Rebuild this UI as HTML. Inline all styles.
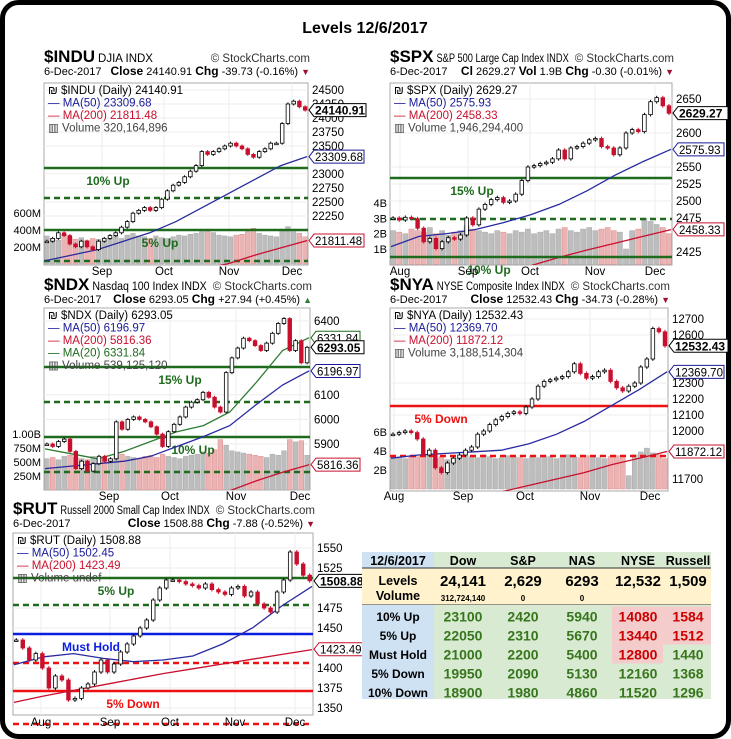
<!DOCTYPE html>
<html><head><meta charset="utf-8"><style>
html,body{margin:0;padding:0;background:#fff}
svg{display:block;font-family:"Liberation Sans",sans-serif}
</style></head><body>
<svg id="s" width="731" height="739" viewBox="0 0 731 739" xmlns="http://www.w3.org/2000/svg">
<rect x="2.5" y="2.5" width="726" height="734" rx="16" fill="#fff" stroke="#000" stroke-width="5"/>
<text x="365" y="33" text-anchor="middle" font-size="16" font-weight="bold">Levels 12/6/2017</text>
<g id="charts"></g>
<g id="table"></g>
</svg>
<script>
// ---------- DATA ----------
const induCloses=[21800,21850,21950,21900,21750,21700,21800,21700,21650,21800,21850,21900,21950,22050,22150,22300,22350,22400,22350,22400,22550,22700,22800,22850,22950,23050,23150,23400,23350,23400,23450,23500,23550,23500,23450,23350,23300,23400,23450,23550,23550,23900,24250,24300,24200,24140];
const induVolume=[330,300,280,350,320,290,310,280,300,290,270,310,330,300,340,360,330,320,300,330,310,300,320,340,330,350,360,380,390,370,340,330,320,340,350,380,420,360,340,330,320,400,440,380,360,320];
const induMa50=[21450,21550,21650,21800,21950,22150,22400,22650,22900,23150,23310];
const induMa200=[20700,20800,20900,21000,21100,21200,21300,21400,21550,21680,21811];
const induTicks=[24500,24250,24000,23750,23500,23000,22750,22500,22250];
const induVolTicks=[600,400,200];
const induVolTickLabels=["600M","400M","200M"];

const spxCloses=[2475,2472,2476,2474,2460,2440,2445,2430,2440,2446,2444,2450,2475,2465,2488,2495,2502,2505,2498,2500,2510,2530,2550,2552,2555,2557,2562,2575,2562,2578,2580,2585,2590,2592,2580,2578,2568,2578,2600,2605,2602,2627,2646,2652,2640,2629];
const spxVolume=[2.2,2.1,2.0,2.3,2.2,2.1,2.4,2.0,2.2,1.9,2.1,2.2,2.5,2.3,2.2,2.1,2.0,2.2,2.1,2.0,2.2,2.1,2.3,2.0,2.1,2.2,2.0,2.3,2.4,2.2,2.1,2.3,2.4,2.2,2.3,2.4,2.2,2.1,1.0,2.2,2.3,3.0,2.8,2.6,2.4,2.0];
const spxMa50=[2433,2448,2452,2458,2468,2480,2495,2515,2538,2558,2576];
const spxMa200=[2340,2355,2368,2380,2392,2405,2417,2428,2438,2448,2458];
const spxTicks=[2650,2600,2550,2525,2500,2475,2425];
const spxVolTicks=[4,3,2,1];
const spxVolTickLabels=["4B","3B","2B","1B"];

const ndxCloses=[5900,5890,5910,5920,5870,5800,5830,5790,5820,5850,5830,5840,5990,5960,6000,6010,6000,5990,5970,5940,5890,5950,5980,6010,6050,6070,6080,6110,6090,6050,6030,6190,6250,6290,6330,6320,6300,6280,6310,6350,6390,6410,6280,6320,6230,6293];
const ndxVolume=[560,580,540,600,620,580,560,540,600,580,560,550,620,640,600,580,560,600,620,580,640,600,580,560,600,620,640,680,660,720,900,800,700,680,660,640,620,600,580,640,620,700,900,860,880,620];
const ndxMa50=[5800,5810,5820,5830,5850,5890,5930,5975,6060,6140,6197];
const ndxMa20=[5880,5860,5840,5870,5910,5950,5975,6030,6150,6280,6332];
const ndxMa200=[5500,5530,5560,5590,5620,5650,5680,5710,5750,5785,5816];
const ndxTicks=[6400,6100,6000,5900];
const ndxVolTicks=[1000,750,500,250];
const ndxVolTickLabels=["1.00B","750M","500M","250M"];

const nyaCloses=[11980,11990,12000,11990,11950,11850,11880,11770,11740,11800,11830,11850,11880,11900,11980,12000,12040,12070,12090,12110,12120,12110,12150,12200,12280,12310,12320,12330,12340,12370,12420,12360,12330,12340,12370,12380,12310,12270,12250,12280,12300,12400,12450,12640,12620,12532];
const nyaVolume=[3.4,3.3,3.2,3.5,3.4,3.3,3.6,3.2,3.4,3.1,3.3,3.2,3.5,3.4,3.3,3.6,3.4,3.2,3.3,3.5,3.4,3.3,3.2,3.4,3.3,3.5,3.4,3.2,3.3,3.6,3.4,3.3,3.5,3.4,3.3,3.2,3.4,3.5,3.3,1.4,3.6,3.9,4.3,3.8,3.6,3.2];
const nyaMa50=[11830,11850,11860,11870,11880,11920,11980,12060,12160,12260,12370];
const nyaMa200=[11500,11530,11560,11590,11620,11660,11700,11740,11790,11830,11872];
const nyaTicks=[12700,12600,12300,12200,12100,12000,11700];
const nyaVolTicks=[6,4,2];
const nyaVolTickLabels=["6B","4B","2B"];

const rutCloses=[1435,1425,1410,1418,1400,1375,1390,1385,1360,1362,1375,1380,1395,1410,1395,1405,1420,1430,1440,1450,1460,1485,1500,1510,1510,1508,1505,1503,1500,1505,1498,1495,1492,1500,1502,1490,1495,1480,1475,1470,1495,1510,1545,1530,1516,1509];
const rutMa50=[1404,1414,1418,1412,1408,1410,1415,1430,1450,1478,1502];
const rutMa200=[1357,1365,1372,1379,1386,1393,1399,1405,1411,1417,1423];
const rutTicks=[1550,1525,1475,1450,1400,1375,1350];

const tableCols=["Dow","S&P","NAS","NYSE","Russell"];
const tableLevels=["24,141","2,629","6293","12,532","1,509"];
const tableVolumes=["312,724,140","0","0","",""];
const tableRowLabels=["10% Up","5% Up","Must Hold","5% Down","10% Down"];
const tableValues=[[23100,2420,5940,14080,1584],[22050,2310,5670,13440,1512],[21000,2200,5400,12800,1440],[19950,2090,5130,12160,1368],[18900,1980,4860,11520,1296]];
const tableRed=[[0,0,0,1,1],[0,0,0,1,1],[0,0,0,1,0],[0,0,0,0,0],[0,0,0,0,0]];

// ---------- RENDER ----------
const NS="http://www.w3.org/2000/svg";
function mk(tag,attrs,parent,name){const e=document.createElementNS(NS,tag);for(const k in attrs)e.setAttribute(k,attrs[k]);


parent.appendChild(e);return e;}
function txt(x,y,s,attrs,parent,name){const t=mk('text',Object.assign({x:x,y:y},attrs||{}),parent,name);t.textContent=s;return t;}
const root=document.getElementById('charts');

function chart(c){
  const g=mk('g',{},root,c.id+'-chart');
  const L=c.box[0],T=c.box[1],R=c.box[2],B=c.box[3];
  const ys=v=>c.y1+(v-c.v1)*(c.y2-c.y1)/(c.v2-c.v1);
  const N=c.closes.length, step=(R-L)/N;
  const xs=i=>L+(i+0.5)*step;
  const xm=(i,n)=>L+1+i*(R-L-2)/(n-1);
  // header
  const st=txt(L,c.hy,c.sym,{'font-size':17,'font-weight':'bold'},g,c.id+'-symbol');
  const sw=st.getComputedTextLength();
  const wm=txt(R+2,c.hy,'© StockCharts.com',{'font-size':11.5,'text-anchor':'end',fill:'#333'},g,c.id+'-watermark');
  const ww=wm.getComputedTextLength();
  const dt=txt(L+sw+3,c.hy,c.desc,{'font-size':11.5},g,c.id+'-description');
  const avail=(R+2-ww-6)-(L+sw+3);
  if(dt.getComputedTextLength()>avail){dt.setAttribute('textLength',avail);dt.setAttribute('lengthAdjust','spacingAndGlyphs');}
  txt(L,c.hy+13,'6-Dec-2017',{'font-size':11},g,c.id+'-date');
  const it=txt(R+2,c.hy+13,'',{'font-size':11,'text-anchor':'end'},g,c.id+'-close-info');
  c.info.forEach((p,k)=>{const ts=document.createElementNS(NS,'tspan');ts.textContent=p;if(k%2===0){ts.setAttribute('font-weight','bold');ts.setAttribute('font-size','12');}
    if(p==='▼'){ts.setAttribute('fill','#a01030');ts.setAttribute('font-size','9');}
    if(p==='▲'){ts.setAttribute('fill','#2e7d32');ts.setAttribute('font-size','9');}
    it.appendChild(ts);});
  const clipId=c.id+'clip';
  const cp=mk('clipPath',{id:clipId},g,c.id+'-clip');
  mk('rect',{x:L,y:T,width:R-L,height:B-T},cp,c.id+'-clip-rect');
  mk('rect',{x:L,y:T,width:R-L,height:B-T,fill:'#fff',stroke:'#aaa','stroke-width':1},g,c.id+'-plot-area');
  const pg=mk('g',{'clip-path':'url(#'+clipId+')'},g,c.id+'-plot');
  c.ticks.forEach(t=>{mk('line',{x1:L,x2:R,y1:ys(t),y2:ys(t),stroke:'#eee'},pg,c.id+'-grid-h');});
  c.months.forEach(m=>{mk('line',{x1:m[1],x2:m[1],y1:T,y2:B,stroke:'#eee'},pg,c.id+'-grid-v');});
  if(c.vol){const vs=v=>c.vy1+(v-c.vv1)*(c.vy2-c.vy1)/(c.vv2-c.vv1);
    c.vol.forEach((v,i)=>{const up=i===0||c.closes[i]>=c.closes[i-1];
      mk('rect',{x:xs(i)-step/2+0.5,y:vs(v),width:step-1,height:vs(0)-vs(v),fill:up?'#bdbdbd':'#eab4b4',stroke:up?'#aaa':'#e08c8c','stroke-width':0.5},pg,c.id+'-volume-bar');});
    c.volTicks.forEach((t,k)=>txt(L-3,vs(t)+4,c.volLabels[k],{'font-size':11,'text-anchor':'end'},g,c.id+'-volume-tick'));
  }
  c.levels.forEach(l=>{mk('line',{x1:L,x2:R,y1:l.y,y2:l.y,stroke:l.col,'stroke-width':2.5,'stroke-dasharray':l.dash?'6,4':'none'},l.out?g:pg,c.id+'-level-line');
    if(l.label)txt(l.lx,l.y+17,l.label,{'font-size':12,'font-weight':'bold',fill:l.col,'text-anchor':'middle'},l.out?g:pg,c.id+'-level-label');});
  const maLine=(arr,col,nm)=>{let d='';arr.forEach((v,i)=>{d+=(i?'L':'M')+xm(i,arr.length).toFixed(1)+','+ys(v).toFixed(1);});
    mk('path',{d:d,fill:'none',stroke:col,'stroke-width':1.3},pg,nm);};
  maLine(c.ma200,'#c8102e',c.id+'-ma200-line');
  if(c.ma20)maLine(c.ma20,'#2e7d32',c.id+'-ma20-line');
  maLine(c.ma50,'#2a2aa0',c.id+'-ma50-line');
  c.closes.forEach((cl,i)=>{const op=i?c.closes[i-1]:cl;const up=cl>=op;
    const y0=ys(Math.max(cl,op)),y1=ys(Math.min(cl,op));const h=Math.max(1.5,y1-y0);
    const rng=(c.v1-c.v2)*0.012;
    mk('line',{x1:xs(i),x2:xs(i),y1:ys(Math.max(cl,op)+rng),y2:ys(Math.min(cl,op)-rng),stroke:up?'#000':'#c8102e'},pg,c.id+'-candle-wick');
    mk('rect',{x:xs(i)-1.8,y:y0,width:3.6,height:h,fill:up?'#fff':'#c8102e',stroke:up?'#000':'#c8102e','stroke-width':0.8},pg,c.id+'-candle');});
  c.legend.forEach((s,k)=>txt(L+4,T+11+k*12.5,s[0],{'font-size':11.5,fill:s[1]},g,c.id+'-legend-entry'));
  c.ticks.forEach(t=>txt(R+4,ys(t)+4,String(t),{'font-size':11.5},g,c.id+'-y-tick'));
  c.months.forEach(m=>txt(m[1],c.xly,m[0],{'font-size':11.5,'text-anchor':'middle'},g,c.id+'-x-tick'));
  c.tags.forEach(tg=>{const y=ys(tg.v);const w=tg.w||50;
    mk('path',{d:`M${R+1},${y} L${R+6},${y-6.5} L${R+6+w},${y-6.5} L${R+6+w},${y+6.5} L${R+6},${y+6.5} Z`,fill:'#fff',stroke:tg.col,'stroke-width':1},g,c.id+'-price-tag');
    txt(R+7,y+4.5,tg.s,{'font-size':tg.bold?12:11.5,'font-weight':tg.bold?'bold':'normal'},g,c.id+'-price-tag-label');});
}

chart({id:'indu',box:[44,83,308,265],v1:24500,y1:90,v2:22250,y2:216,closes:induCloses,vol:induVolume,vv1:600,vy1:213,vv2:200,vy2:247,
 volTicks:induVolTicks,volLabels:induVolTickLabels,ma50:induMa50,ma200:induMa200,ticks:induTicks,hy:62,sym:'$INDU',desc:'DJIA  INDX',
 info:['Close',' 24140.91  ','Chg',' -39.73 (-0.16%) ','▼'],months:[["Sep",102],["Oct",164],["Nov",229],["Dec",292]],xly:275,
 levels:[{y:168,col:'#1e6b1e',label:'10% Up',lx:108},{y:198,col:'#1e6b1e',dash:1},{y:230,col:'#1e6b1e',label:'5% Up',lx:160},{y:261,col:'#1e6b1e',dash:1}],
 legend:[['₪ $INDU (Daily) 24140.91','#000'],['— MA(50) 23309.68','#1a1a9a'],['— MA(200) 21811.48','#c8102e'],['▥ Volume 320,164,896','#444']],
 tags:[{v:24140.91,s:'24140.91',col:'#000',bold:1,w:52},{v:23309.68,s:'23309.68',col:'#1a1a9a',w:50},{v:21811.48,s:'21811.48',col:'#c8102e',w:50}]});

chart({id:'spx',box:[390,83,672,265],v1:2650,y1:99,v2:2425,y2:252,closes:spxCloses,vol:spxVolume,vv1:4,vy1:203,vv2:1,vy2:249,
 volTicks:spxVolTicks,volLabels:spxVolTickLabels,ma50:spxMa50,ma200:spxMa200,ticks:spxTicks,hy:62,sym:'$SPX',desc:'S&P 500 Large Cap Index INDX',
 info:['Cl',' 2629.27 ','Vol',' 1.9B ','Chg',' -0.30 (-0.01%) ','▼'],months:[["Aug",400],["Sep",468],["Oct",530],["Nov",595],["Dec",655]],xly:275,
 levels:[{y:178,col:'#1e6b1e',label:'15% Up',lx:472},{y:219,col:'#1e6b1e',dash:1},{y:257,col:'#1e6b1e',label:'10% Up',lx:489,out:1}],
 legend:[['₪ $SPX (Daily) 2629.27','#000'],['— MA(50) 2575.93','#1a1a9a'],['— MA(200) 2458.33','#c8102e'],['▥ Volume 1,946,294,400','#444']],
 tags:[{v:2629.27,s:'2629.27',col:'#000',bold:1,w:50},{v:2575.93,s:'2575.93',col:'#1a1a9a',w:46},{v:2458.33,s:'2458.33',col:'#c8102e',w:46}]});

chart({id:'ndx',box:[44,308,310,490],v1:6400,y1:321,v2:5900,y2:444,closes:ndxCloses,vol:ndxVolume,vv1:1000,vy1:434,vv2:250,vy2:476,
 volTicks:ndxVolTicks,volLabels:ndxVolTickLabels,ma50:ndxMa50,ma20:ndxMa20,ma200:ndxMa200,ticks:ndxTicks,hy:290,sym:'$NDX',desc:'Nasdaq 100 Index  INDX',
 info:['Close',' 6293.05  ','Chg',' +27.94 (+0.45%) ','▲'],months:[["Sep",109],["Oct",170],["Nov",236],["Dec",300]],xly:500,
 levels:[{y:367,col:'#1e6b1e',label:'15% Up',lx:180},{y:402,col:'#1e6b1e',dash:1},{y:437,col:'#1e6b1e',label:'10% Up',lx:193},{y:472,col:'#1e6b1e',dash:1}],
 legend:[['₪ $NDX (Daily) 6293.05','#000'],['— MA(50) 6196.97','#1a1a9a'],['— MA(200) 5816.36','#c8102e'],['— MA(20) 6331.84','#1e6b1e'],['▥ Volume 539,125,120','#444']],
 tags:[{v:6331.84,s:'6331.84',col:'#1e6b1e',w:44},{v:6293.05,s:'6293.05',col:'#000',bold:1,w:48},{v:6196.97,s:'6196.97',col:'#1a1a9a',w:44},{v:5816.36,s:'5816.36',col:'#c8102e',w:44}]});

chart({id:'nya',box:[390,308,668,491],v1:12700,y1:319,v2:11700,y2:479,closes:nyaCloses,vol:nyaVolume,vv1:6,vy1:432,vv2:2,vy2:470,
 volTicks:nyaVolTicks,volLabels:nyaVolTickLabels,ma50:nyaMa50,ma200:nyaMa200,ticks:nyaTicks,hy:290,sym:'$NYA',desc:'NYSE Composite Index  INDX',
 info:['Close',' 12532.43  ','Chg',' -34.73 (-0.28%) ','▼'],months:[["Aug",394],["Sep",463],["Oct",525],["Nov",590],["Dec",650]],xly:500,
 levels:[{y:406,col:'#ee1111',label:'5% Down',lx:441},{y:456,col:'#ee1111',dash:1}],
 legend:[['₪ $NYA (Daily) 12532.43','#000'],['— MA(50) 12369.70','#1a1a9a'],['— MA(200) 11872.12','#c8102e'],['▥ Volume 3,188,514,304','#444']],
 tags:[{v:12532.43,s:'12532.43',col:'#000',bold:1,w:54},{v:12369.70,s:'12369.70',col:'#1a1a9a',w:50},{v:11872.12,s:'11872.12',col:'#c8102e',w:50}]});

chart({id:'rut',box:[13,533,313,715],v1:1550,y1:548,v2:1350,y2:708,closes:rutCloses,ma50:rutMa50,ma200:rutMa200,ticks:rutTicks,hy:514,sym:'$RUT',desc:'Russell 2000 Small Cap Index INDX',
 info:['Close',' 1508.88  ','Chg',' -7.88 (-0.52%) ','▼'],months:[["Aug",41],["Sep",110],["Oct",170],["Nov",235],["Dec",295]],xly:726,
 levels:[{y:578,col:'#1e6b1e',label:'5% Up',lx:116},{y:605,col:'#1e6b1e',dash:1},{y:634,col:'#0a1ee0',label:'Must Hold',lx:91},{y:663,col:'#ee1111',dash:1},{y:691,col:'#ee1111',label:'5% Down',lx:133},{y:724,col:'#ee1111',dash:1,out:1}],
 legend:[['₪ $RUT (Daily) 1508.88','#000'],['— MA(50) 1502.45','#1a1a9a'],['— MA(200) 1423.49','#c8102e'],['▥ Volume undef','#444']],
 tags:[{v:1508.88,s:'1508.88',col:'#000',bold:1,w:48},{v:1423.49,s:'1423.49',col:'#c8102e',w:44}]});

// ---------- TABLE ----------
const tb=document.getElementById('table');
const colX=[463,523,582,638,688];
mk('rect',{x:362,y:552,width:72,height:16,fill:'#cfe2f3'},tb,'table-header-label-cell');
mk('rect',{x:434,y:552,width:277,height:16,fill:'#d9ead3'},tb,'table-header-row');
txt(398,565,'12/6/2017',{'font-size':12.5,'font-weight':'bold','text-anchor':'middle'},tb,'table-date');
tableCols.forEach((c,k)=>txt(colX[k],565,c,{'font-size':12.5,'font-weight':'bold','text-anchor':'middle'},tb,'table-col-header'));
mk('rect',{x:362,y:568,width:349,height:37,fill:'#fff2cc'},tb,'table-levels-row');
mk('line',{x1:362,x2:711,y1:568,y2:568,stroke:'#333','stroke-width':1},tb,'table-rule');
mk('line',{x1:362,x2:711,y1:605,y2:605,stroke:'#333','stroke-width':1},tb,'table-rule');
txt(398,585,'Levels',{'font-size':12.5,'font-weight':'bold','text-anchor':'middle'},tb,'table-levels-label');
txt(398,600,'Volume',{'font-size':12.5,'font-weight':'bold','text-anchor':'middle'},tb,'table-volume-label');
tableLevels.forEach((v,k)=>txt(colX[k],586,v,{'font-size':15,'font-weight':'bold','text-anchor':'middle'},tb,'table-level-value'));
tableVolumes.forEach((v,k)=>{if(v)txt(colX[k],601,v,{'font-size':8,'font-weight':'bold','text-anchor':'middle'},tb,'table-volume-value');});
mk('rect',{x:362,y:605,width:72,height:94,fill:'#cfe2f3'},tb,'table-label-column');
mk('rect',{x:434,y:605,width:277,height:94,fill:'#d9ead3'},tb,'table-values-block');
const redX=[[612,51],[663,48]];
tableValues.forEach((row,r)=>{const cy=616+r*19;
  txt(398,cy+5,tableRowLabels[r],{'font-size':12,'font-weight':'bold','text-anchor':'middle'},tb,'table-row-label');
  row.forEach((v,k)=>{const red=tableRed[r][k];
    if(red){const rx=k===3?redX[0]:redX[1];mk('rect',{x:rx[0],y:cy-9.5,width:rx[1],height:19,fill:'#f4cccc'},tb,'table-alert-cell');}
    txt(colX[k],cy+5.5,String(v),{'font-size':14,'font-weight':'bold','text-anchor':'middle',fill:red?'#cc0000':'#38761d'},tb,'table-value');});
});
</script>
</body></html>
